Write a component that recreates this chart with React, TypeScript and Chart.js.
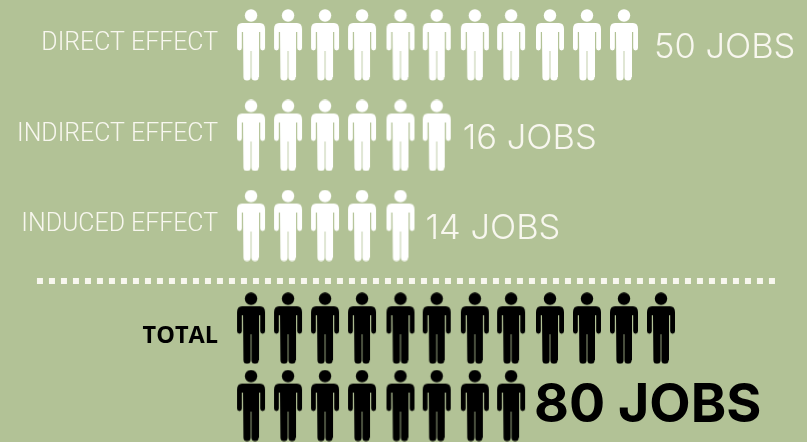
import React, { useEffect, useRef } from "react";
import { Chart, registerables } from "chart.js";

Chart.register(...registerables);

const rowLabels = ["DIRECT EFFECT", "INDIRECT EFFECT", "INDUCED EFFECT", "TOTAL", ""];
const valueLabels = ["50 JOBS", "16 JOBS", "14 JOBS", "", "80 JOBS"];
const iconCounts = [11, 6, 5, 12, 8];
const rowPositions = [0, 1, 1.995, 3.13, 3.985];
const iconColumns = [0, 1, 2, 3, 4.04, 5.02, 6.05, 7.03, 8.08, 9.08, 10.08, 11.08];
const rowColors = ["#ffffff", "#ffffff", "#ffffff", "#000000", "#000000"];
const dividerX = [-5.785, 14.19];
const dividerY = 2.608;
const BG = "#b2c296";
const DOT = "#f8f7ef";

function makeIcon(color: string) {
  const c = document.createElement("canvas");
  c.width = 30;
  c.height = 72;
  const g = c.getContext("2d")!;
  g.fillStyle = color;
  g.beginPath();
  g.arc(15, 6.5, 6.2, 0, Math.PI * 2);
  g.fill();
  g.beginPath();
  g.moveTo(6, 14);
  g.lineTo(24, 14);
  g.quadraticCurveTo(29, 14, 29, 20);
  g.lineTo(29, 39);
  g.arc(26.6, 39, 2.4, 0, Math.PI);
  g.lineTo(24.2, 23);
  g.lineTo(23, 23);
  g.lineTo(23, 68);
  g.arc(19, 68, 3.6, 0, Math.PI);
  g.lineTo(15.4, 42);
  g.lineTo(14.6, 42);
  g.lineTo(14.6, 68);
  g.arc(11, 68, 3.6, 0, Math.PI);
  g.lineTo(7, 23);
  g.lineTo(5.8, 23);
  g.lineTo(5.8, 39);
  g.arc(3.4, 39, 2.4, 0, Math.PI);
  g.lineTo(1, 20);
  g.quadraticCurveTo(1, 14, 6, 14);
  g.closePath();
  g.fill();
  return c;
}

const textPlugin = {
  id: "rowText",
  afterDatasetsDraw(chart: any) {
    const { ctx, scales } = chart;
    const x = scales.x;
    const y = scales.y;
    ctx.save();
    ctx.textBaseline = "middle";
    rowLabels.forEach((label, i) => {
      if (!label) return;
      const isTotal = label === "TOTAL";
      ctx.font = isTotal ? '700 23.5px "Open Sans"' : '300 24.9px Roboto';
      ctx.fillStyle = isTotal ? "#000000" : "#f8f7ef";
      ctx.textAlign = "right";
      ctx.fillText(label, x.getPixelForValue(iconColumns[0]) - 33, y.getPixelForValue(rowPositions[i]) + (isTotal ? 8.5 : -1));
    });
    valueLabels.forEach((label, i) => {
      if (!label) return;
      const big = i === 4;
      ctx.font = big ? '700 53.7px Inter' : '300 34.5px Inter';
      ctx.fillStyle = big ? "#000000" : "#f8f7ef";
      ctx.textAlign = "left";
      const last = iconColumns[iconCounts[i] - 1];
      const gap = big ? 23 : i === 0 ? 30 : i === 1 ? 26 : 25;
      ctx.fillText(label, x.getPixelForValue(last) + gap, y.getPixelForValue(rowPositions[i]) + (big ? 0 : 3));
    });
    ctx.restore();
  },
};

export default function App() {
  const ref = useRef<HTMLCanvasElement>(null);
  useEffect(() => {
    document.body.style.margin = "0";
    document.body.style.background = BG;
    const iconDatasets = iconCounts.map((n, r) => ({
      type: "scatter" as const,
      label: "row" + r,
      data: iconColumns.slice(0, n).map((col) => ({ x: col, y: rowPositions[r] })),
      pointStyle: makeIcon(rowColors[r]),
      pointRadius: 15,
      showLine: false,
    }));
    const chart = new Chart(ref.current!, {
      type: "scatter",
      data: {
        datasets: [
          ...iconDatasets,
          {
            type: "line" as const,
            label: "divider",
            data: dividerX.map((x) => ({ x, y: dividerY })),
            borderColor: DOT,
            borderWidth: 6,
            borderDash: [6, 6],
            pointRadius: 0,
          },
        ] as any,
      },
      options: {
        animation: false,
        responsive: false,
        layout: { padding: 0, autoPadding: false },
        plugins: { legend: { display: false }, tooltip: { enabled: false } },
        scales: {
          x: { type: "linear", display: false, min: -6.784, max: 15.027 },
          y: { type: "linear", display: false, reverse: true, min: -0.497, max: 4.387 },
        },
      },
      plugins: [textPlugin],
    });
    return () => chart.destroy();
  }, []);
  return <canvas ref={ref} width={807} height={442} style={{ display: "block", background: BG }} />;
}
